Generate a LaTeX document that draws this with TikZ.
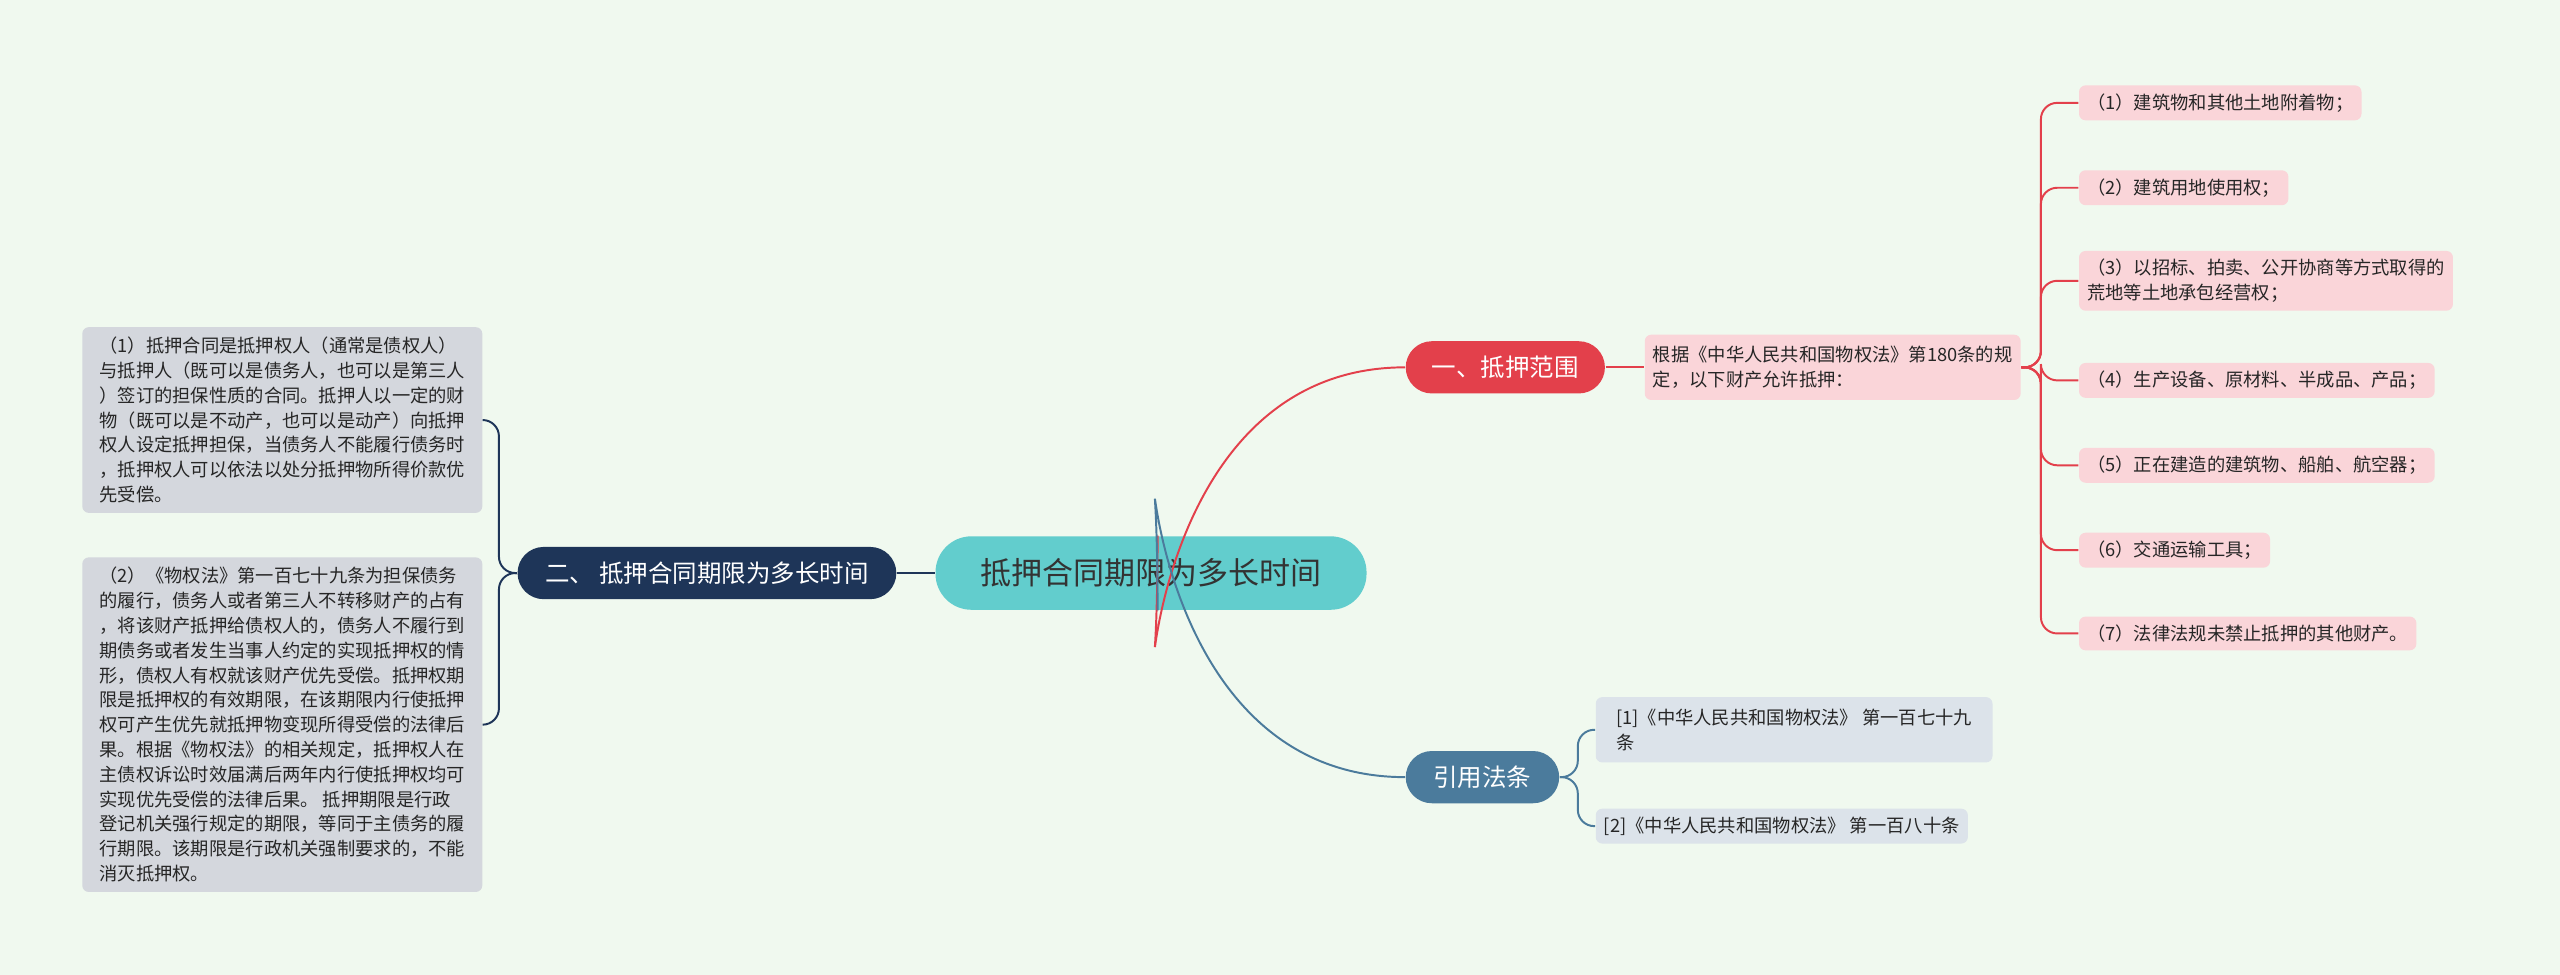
\documentclass[tikz,border=0pt]{standalone}
\usepackage{fontspec}
\setmainfont{Noto Sans CJK SC}
\definecolor{bg}{HTML}{F0F9EF}
\definecolor{cen}{HTML}{62CDCD}
\definecolor{red1}{HTML}{E3404B}
\definecolor{navy}{HTML}{1E3558}
\definecolor{steel}{HTML}{4B7B9C}
\definecolor{pink}{HTML}{FAD5D9}
\definecolor{cit}{HTML}{DCE3EA}
\definecolor{gry}{HTML}{D4D7DD}
\begin{document}
\begin{tikzpicture}[x=0.5pt,y=-0.5pt,
 sm/.style={font=\fontsize{5.6pt}{7.6pt}\selectfont,align=left,inner sep=2.5pt,rounded corners=2pt},
 leaf/.style={sm,fill=pink,anchor=west,text=black!85},
 ct/.style={sm,fill=cit,anchor=west,text=black!85},
 lb/.style={sm,fill=gry,anchor=north west,text=black!85,minimum width=122.5pt,inner sep=3pt},
 br/.style={rounded corners=8pt,text=white,font=\fontsize{7.5pt}{9pt}\selectfont,inner sep=0pt,minimum height=16pt}]
\fill[bg] (0,0) rectangle (1568,597);
\useasboundingbox (0,0) rectangle (1568,597);
\node[fill=cen,rounded corners=11pt,minimum width=132pt,minimum height=22.5pt,font=\fontsize{9.5pt}{11pt}\selectfont,text=black!80] (c) at (705,351) {抵押合同期限为多长时间};
\node[br,fill=red1,minimum width=61pt] (b1) at (922,225) {一、抵押范围};
\node[br,fill=steel,minimum width=47pt] (b3) at (908,476) {引用法条};
\node[br,fill=navy,minimum width=116pt] (b2) at (433,351) {二、 抵押合同期限为多长时间};
\node[leaf,minimum height=20pt] (g) at (1007,225) {根据《中华人民共和国物权法》第180条的规\\定，以下财产允许抵押：};
\node[leaf] (l1) at (1273,63) {（1）建筑物和其他土地附着物；};
\node[leaf] (l2) at (1273,115) {（2）建筑用地使用权；};
\node[leaf] (l3) at (1273,172) {（3）以招标、拍卖、公开协商等方式取得的\\荒地等土地承包经营权；};
\node[leaf] (l4) at (1273,233) {（4）生产设备、原材料、半成品、产品；};
\node[leaf] (l5) at (1273,285) {（5）正在建造的建筑物、船舶、航空器；};
\node[leaf] (l6) at (1273,337) {（6）交通运输工具；};
\node[leaf] (l7) at (1273,388) {（7）法律法规未禁止抵押的其他财产。};
\node[ct,minimum width=121.5pt,minimum height=20pt] (t1) at (977,447) {[1]《中华人民共和国物权法》 第一百七十九\\条};
\node[ct] (t2) at (977,506) {[2]《中华人民共和国物权法》 第一百八十条};
\node[lb] (a1) at (50,200) {（1）抵押合同是抵押权人（通常是债权人）\\与抵押人（既可以是债务人，也可以是第三人\\）签订的担保性质的合同。抵押人以一定的财\\物（既可以是不动产，也可以是动产）向抵押\\权人设定抵押担保，当债务人不能履行债务时\\，抵押权人可以依法以处分抵押物所得价款优\\先受偿。};
\node[lb] (a2) at (50,341) {（2）《物权法》第一百七十九条为担保债务\\的履行，债务人或者第三人不转移财产的占有\\，将该财产抵押给债权人的，债务人不履行到\\期债务或者发生当事人约定的实现抵押权的情\\形，债权人有权就该财产优先受偿。抵押权期\\限是抵押权的有效期限，在该期限内行使抵押\\权可产生优先就抵押物变现所得受偿的法律后\\果。根据《物权法》的相关规定，抵押权人在\\主债权诉讼时效届满后两年内行使抵押权均可\\实现优先受偿的法律后果。 抵押期限是行政\\登记机关强行规定的期限，等同于主债务的履\\行期限。该期限是行政机关强制要求的，不能\\消灭抵押权。};
\draw[red1,line width=0.6pt] ([xshift=2]c.north) .. controls ([xshift=2,yshift=-100]c.north) and ([xshift=-90]b1.west) .. (b1.west);
\draw[steel,line width=0.6pt] ([xshift=2]c.south) .. controls ([xshift=2,yshift=100]c.south) and ([xshift=-90]b3.west) .. (b3.west);
\draw[navy,line width=0.6pt] (c.west) -- (b2.east);
\draw[red1,line width=0.6pt] (b1.east) -- (g.west);
\foreach \n in {l1,l2,l3,l4,l5,l6,l7}
 \draw[red1,line width=0.6pt,rounded corners=5pt] (g.east) -- ++(12,0) |- (\n.west);
\foreach \n in {t1,t2}
 \draw[steel,line width=0.6pt,rounded corners=5pt] (b3.east) -- ++(11,0) |- (\n.west);
\draw[navy,line width=0.6pt,rounded corners=5pt] (b2.west) -- ++(-11,0) |- (a1.east);
\draw[navy,line width=0.6pt,rounded corners=5pt] (b2.west) -- ++(-11,0) |- (a2.east);
\end{tikzpicture}
\end{document}
